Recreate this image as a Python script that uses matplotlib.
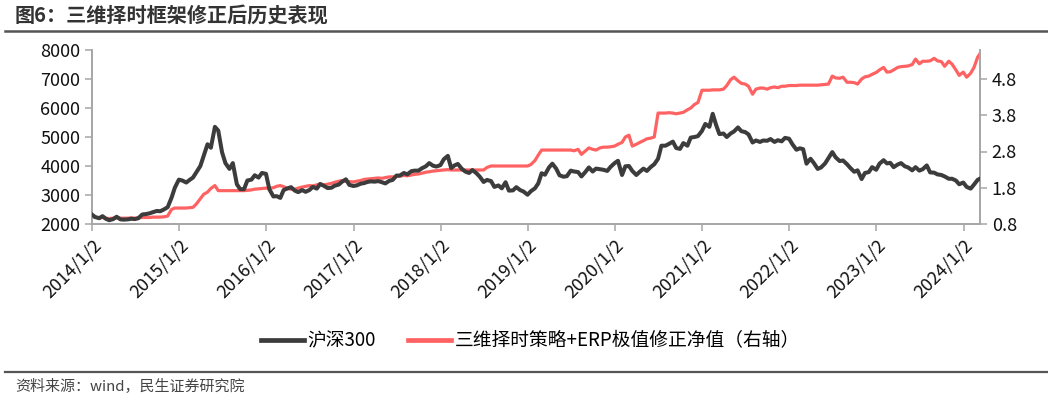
import pandas as pd
import matplotlib
matplotlib.use("Agg")
import matplotlib.pyplot as plt
from matplotlib.lines import Line2D

plt.rcParams['font.family'] = ['Noto Sans CJK SC', 'DejaVu Sans']

# semi-monthly sample dates (1st and 15th), 2014-01 .. 2024-03
dates = pd.date_range("2014-01-01", "2024-03-15", freq="SMS")

# 沪深300 (left axis)
hs300 = [
    # 2014
    2330, 2240, 2200, 2270, 2180, 2130, 2170, 2250, 2160, 2150, 2160, 2180,
    2170, 2200, 2330, 2340, 2370, 2410, 2450, 2440, 2510, 2580, 2900, 3250,
    # 2015
    3530, 3500, 3430, 3520, 3600, 3780, 4000, 4350, 4750, 4630, 5350, 5220,
    4470, 4100, 3900, 4100, 3370, 3200, 3200, 3500, 3530, 3680, 3600, 3760,
    # 2016
    3730, 3200, 2950, 2960, 2900, 3170, 3230, 3270, 3150, 3100, 3170, 3110,
    3170, 3280, 3220, 3380, 3310, 3240, 3250, 3320, 3360, 3460, 3540, 3350,
    # 2017
    3310, 3330, 3390, 3410, 3450, 3470, 3460, 3480, 3440, 3400, 3490, 3520,
    3670, 3670, 3760, 3710, 3820, 3840, 3840, 3920, 3990, 4100, 4010, 3980,
    # 2018
    4030, 4230, 4350, 3930, 4020, 4070, 3900, 3810, 3760, 3860, 3750, 3630,
    3450, 3520, 3480, 3280, 3330, 3230, 3440, 3150, 3160, 3270, 3170, 3120,
    # 2019
    3010, 3130, 3230, 3400, 3750, 3700, 3950, 4080, 3910, 3680, 3630, 3650,
    3840, 3810, 3790, 3640, 3800, 3950, 3810, 3910, 3890, 3870, 3830, 3970,
    # 2020
    4100, 4180, 3690, 3990, 4000, 3830, 3690, 3800, 3910, 3830, 3970, 4060,
    4250, 4700, 4700, 4760, 4840, 4620, 4590, 4790, 4700, 4980, 5000, 5030,
    # 2021
    5210, 5450, 5350, 5800, 5420, 5100, 5120, 5000, 5120, 5190, 5330, 5200,
    5170, 5090, 4810, 4880, 4830, 4880, 4870, 4930, 4830, 4890, 4850, 4970,
    # 2022
    4940, 4750, 4560, 4610, 4580, 4080, 4250, 4100, 3900, 3950, 4090, 4270,
    4480, 4300, 4170, 4190, 4060, 3930, 3800, 3850, 3550, 3760, 3790, 3960,
    # 2023
    3870, 4080, 4200, 4090, 4110, 3960, 4050, 4100, 3990, 3950, 3850, 3960,
    3840, 3890, 4020, 3780, 3770, 3710, 3690, 3640, 3560, 3560, 3500, 3370,
    # 2024
    3430, 3280, 3220, 3360, 3520, 3580,
]

# 三维择时策略+ERP极值修正净值 (right axis)
nav = [
    # 2014
    1.00, 0.99, 0.97, 0.98, 0.96, 0.95, 0.96, 0.97, 0.96, 0.96, 0.96, 0.97,
    0.96, 0.97, 0.98, 0.98, 0.98, 0.99, 0.99, 0.99, 1.00, 1.02, 1.20, 1.24,
    # 2015
    1.24, 1.24, 1.24, 1.25, 1.26, 1.35, 1.50, 1.62, 1.68, 1.78, 1.86, 1.72,
    1.72, 1.72, 1.72, 1.72, 1.72, 1.72, 1.72, 1.73, 1.74, 1.76, 1.77, 1.78,
    # 2016
    1.79, 1.79, 1.80, 1.84, 1.86, 1.83, 1.78, 1.76, 1.76, 1.79, 1.82, 1.84,
    1.86, 1.85, 1.88, 1.90, 1.88, 1.90, 1.92, 1.95, 1.98, 2.00, 1.98, 1.97,
    # 2017
    1.96, 1.98, 2.00, 2.03, 2.04, 2.05, 2.06, 2.07, 2.06, 2.08, 2.10, 2.10,
    2.11, 2.12, 2.14, 2.13, 2.15, 2.17, 2.18, 2.20, 2.23, 2.24, 2.26, 2.27,
    # 2018
    2.28, 2.29, 2.30, 2.29, 2.29, 2.29, 2.29, 2.29, 2.29, 2.29, 2.29, 2.29,
    2.29, 2.36, 2.40, 2.40, 2.40, 2.40, 2.40, 2.40, 2.40, 2.40, 2.40, 2.40,
    # 2019
    2.40, 2.44, 2.55, 2.70, 2.84, 2.84, 2.84, 2.84, 2.84, 2.84, 2.84, 2.84,
    2.84, 2.82, 2.86, 2.72, 2.82, 2.90, 2.86, 2.84, 2.90, 2.92, 2.92, 2.93,
    # 2020
    2.95, 3.00, 3.05, 3.20, 3.25, 2.95, 3.00, 3.05, 3.10, 3.15, 3.17, 3.20,
    3.86, 3.86, 3.86, 3.87, 3.86, 3.84, 3.86, 3.88, 3.95, 4.00, 4.10, 4.15,
    # 2021
    4.49, 4.49, 4.49, 4.50, 4.50, 4.50, 4.52, 4.62, 4.78, 4.85, 4.75, 4.68,
    4.66, 4.60, 4.38, 4.52, 4.55, 4.55, 4.52, 4.56, 4.58, 4.56, 4.60, 4.60,
    # 2022
    4.62, 4.62, 4.62, 4.63, 4.63, 4.63, 4.63, 4.63, 4.63, 4.64, 4.65, 4.66,
    4.88, 4.83, 4.82, 4.85, 4.71, 4.71, 4.70, 4.66, 4.80, 4.86, 4.88, 4.93,
    # 2023
    4.98, 5.05, 5.12, 4.99, 5.00, 5.05, 5.12, 5.14, 5.15, 5.16, 5.20, 5.35,
    5.22, 5.29, 5.29, 5.30, 5.37, 5.30, 5.28, 5.15, 5.29, 5.21, 5.05, 4.90,
    # 2024
    4.99, 4.85, 4.96, 5.12, 5.40, 5.54,
]

tick_years = list(range(2014, 2025))
tick_labels = [f"{y}/1/2" for y in tick_years]
right_ticks = [0.8, 1.8, 2.8, 3.8, 4.8]

black = "#3c3c3c"
red = "#ff6262"
spine_c = "#a6a6a6"

fig = plt.figure(figsize=(10.48, 4.0), dpi=100)
ax = fig.add_axes([0.0878, 0.44, 0.8473, 0.435])
ax2 = ax.twinx()

ax.plot(dates, hs300, color=black, lw=2.9, solid_joinstyle="round", zorder=3)
ax2.plot(dates, nav, color=red, lw=2.3, solid_joinstyle="round")
ax.set_zorder(ax2.get_zorder() + 1)
ax.patch.set_visible(False)

ax.set_ylim(2000, 8000)
ax.set_yticks(range(2000, 8001, 1000))
ax2.set_ylim(0.8, 5.6)
ax2.set_yticks(right_ticks)
ax2.set_yticklabels([f"{v:.1f}" for v in right_ticks])

ax.set_xlim(pd.Timestamp("2014-01-02"), dates[-1] - pd.Timedelta(days=4))
ax.set_xticks([pd.Timestamp(f"{y}-01-02") for y in tick_years])
ax.set_xticklabels(tick_labels, rotation=45, ha="right", rotation_mode="anchor")

for a in (ax, ax2):
    a.spines["top"].set_visible(False)
    for s in ("left", "right", "bottom"):
        a.spines[s].set_color(spine_c)
        a.spines[s].set_linewidth(1.2)
    a.tick_params(colors=spine_c, labelcolor="#111111", labelsize=13, length=5, width=1.1)
ax.tick_params(axis="x", pad=4)

handles = [Line2D([], [], color=black, lw=3.4), Line2D([], [], color=red, lw=3.4)]
fig.legend(handles, ["沪深300", "三维择时策略+ERP极值修正净值（右轴）"],
           loc="center", bbox_to_anchor=(0.506, 0.148), ncol=2, frameon=False,
           fontsize=13.5, handlelength=2.3, handletextpad=0.2, columnspacing=1.7)

fig.text(15 / 1048, 1 - 15 / 400, "图6：三维择时框架修正后历史表现", fontsize=14.5,
         fontweight="bold", color="#333333", va="center", ha="left")
fig.add_artist(Line2D([0.005, 1.0], [1 - 31 / 400] * 2, color="#555555", lw=1.8,
                      transform=fig.transFigure))
fig.add_artist(Line2D([0.005, 1.0], [1 - 372 / 400] * 2, color="#555555", lw=1.6,
                      transform=fig.transFigure))
fig.text(15 / 1048, 1 - 387 / 400, "资料来源：wind，民生证券研究院", fontsize=10.8,
         color="#444444", va="center", ha="left")

fig.savefig("out.png", dpi=100)
